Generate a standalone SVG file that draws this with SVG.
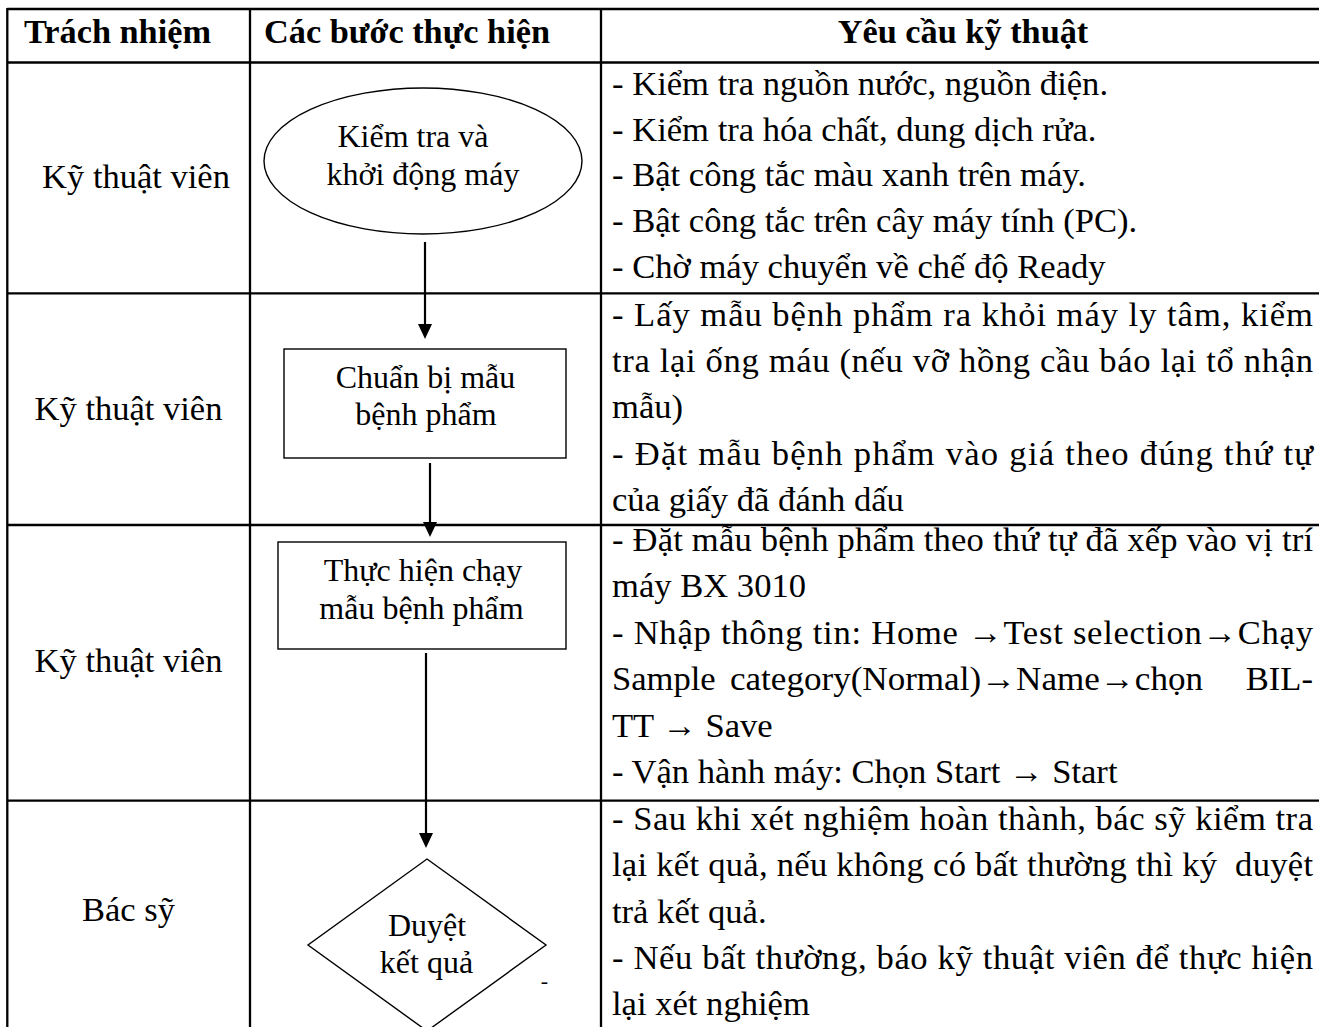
<svg xmlns="http://www.w3.org/2000/svg" width="1319" height="1027" viewBox="0 0 1319 1027">
  <style>
    text { font-family: "Liberation Serif", "Times New Roman", serif; fill: #000; }
    .hd { font-size: 34.3px; font-weight: bold; text-anchor: middle; }
    .role { font-size: 34.5px; text-anchor: middle; }
    .req { font-size: 34.6px; }
    .node { font-size: 32px; text-anchor: middle; }
    .grid { stroke: #000; stroke-width: 2.3; fill: none; }
    .shape { stroke: #000; stroke-width: 1.4; fill: #fff; }
    .conn { stroke: #000; stroke-width: 2.2; fill: none; }
  </style>
  <defs>
    <marker id="ah" viewBox="0 0 15 14" refX="0" refY="7" markerWidth="15" markerHeight="14" markerUnits="userSpaceOnUse" orient="auto">
      <path d="M0,0 L15,7 L0,14 z" fill="#000"/>
    </marker>
  </defs>
  <rect width="1319" height="1027" fill="#fff"/>

  <g id="table">
    <line class="grid" x1="7.3" y1="9" x2="1319" y2="9"/>
    <line class="grid" x1="7.3" y1="62.5" x2="1319" y2="62.5"/>
    <line class="grid" x1="7.3" y1="293.3" x2="1319" y2="293.3"/>
    <line class="grid" x1="7.3" y1="525" x2="1319" y2="525"/>
    <line class="grid" x1="7.3" y1="800.7" x2="1319" y2="800.7"/>
    <line class="grid" x1="7.3" y1="8" x2="7.3" y2="1027"/>
    <line class="grid" x1="250" y1="8" x2="250" y2="1027"/>
    <line class="grid" x1="601" y1="8" x2="601" y2="1027"/>
  </g>

  <g id="header">
    <text class="hd" x="117.5" y="43">Trách nhiệm</text>
    <text class="hd" x="407" y="43">Các bước thực hiện</text>
    <text class="hd" x="963" y="43">Yêu cầu kỹ thuật</text>
  </g>

  <g id="roles">
    <text class="role" x="136" y="188">Kỹ thuật viên</text>
    <text class="role" x="128.5" y="420">Kỹ thuật viên</text>
    <text class="role" x="128.5" y="672">Kỹ thuật viên</text>
    <text class="role" x="128.5" y="921">Bác sỹ</text>
  </g>

  <g id="requirements">
    <text class="req" x="612" y="95">- Kiểm tra nguồn nước, nguồn điện.</text>
    <text class="req" x="612" y="141">- Kiểm tra hóa chất, dung dịch rửa.</text>
    <text class="req" x="612" y="186">- Bật công tắc màu xanh trên máy.</text>
    <text class="req" x="612" y="232">- Bật công tắc trên cây máy tính (PC).</text>
    <text class="req" x="612" y="278">- Chờ máy chuyển về chế độ Ready</text>

    <text class="req" x="612" y="326" textLength="701" lengthAdjust="spacing">- Lấy mẫu bệnh phẩm ra khỏi máy ly tâm, kiểm</text>
    <text class="req" x="612" y="372" textLength="701" lengthAdjust="spacing">tra lại ống máu (nếu vỡ hồng cầu báo lại tổ nhận</text>
    <text class="req" x="612" y="418">mẫu)</text>
    <text class="req" x="612" y="465" textLength="701" lengthAdjust="spacing">- Đặt mẫu bệnh phẩm vào giá theo đúng thứ tự</text>
    <text class="req" x="612" y="511">của giấy đã đánh dấu</text>

    <text class="req" x="612" y="551" textLength="701" lengthAdjust="spacing">- Đặt mẫu bệnh phẩm theo thứ tự đã xếp vào vị trí</text>
    <text class="req" x="612" y="597">máy BX 3010</text>
    <text class="req" x="612" y="644" textLength="701" lengthAdjust="spacing">- Nhập thông tin: Home →Test selection→Chạy</text>
    <text class="req" x="612" y="690">Sample</text>
    <text class="req" x="730" y="690" textLength="473" lengthAdjust="spacingAndGlyphs">category(Normal)→Name→chọn</text>
    <text class="req" x="1313" y="690" text-anchor="end">BIL-</text>
    <text class="req" x="612" y="737">TT → Save</text>
    <text class="req" x="612" y="783">- Vận hành máy: Chọn Start → Start</text>

    <text class="req" x="612" y="830" textLength="701" lengthAdjust="spacing">- Sau khi xét nghiệm hoàn thành, bác sỹ kiểm tra</text>
    <text class="req" x="612" y="876" textLength="701" lengthAdjust="spacing" xml:space="preserve">lại kết quả, nếu không có bất thường thì ký  duyệt</text>
    <text class="req" x="612" y="923">trả kết quả.</text>
    <text class="req" x="612" y="969" textLength="701" lengthAdjust="spacing">- Nếu bất thường, báo kỹ thuật viên để thực hiện</text>
    <text class="req" x="612" y="1015">lại xét nghiệm</text>
  </g>

  <g id="connectors">
    <line class="conn" x1="425" y1="242" x2="425" y2="324" marker-end="url(#ah)"/>
    <line class="conn" x1="430" y1="463" x2="430" y2="522" marker-end="url(#ah)"/>
    <line class="conn" x1="426" y1="653" x2="426" y2="833" marker-end="url(#ah)"/>
  </g>

  <g id="node-start">
    <ellipse class="shape" cx="423" cy="161" rx="159" ry="73"/>
    <text class="node" x="413" y="147">Kiểm tra và</text>
    <text class="node" x="423" y="185">khởi động máy</text>
  </g>

  <g id="node-prepare">
    <rect class="shape" x="284" y="349" width="282" height="109"/>
    <text class="node" x="425.5" y="388">Chuẩn bị mẫu</text>
    <text class="node" x="426" y="425">bệnh phẩm</text>
  </g>

  <g id="node-run">
    <rect class="shape" x="278" y="542" width="288" height="107"/>
    <text class="node" x="423" y="581">Thực hiện chạy</text>
    <text class="node" x="421.5" y="619">mẫu bệnh phẩm</text>
  </g>

  <g id="node-review">
    <polygon class="shape" points="427,859 546,945 427,1031 308,945"/>
    <text class="node" x="427" y="936">Duyệt</text>
    <text class="node" x="426.5" y="973">kết quả</text>
    <text x="544.5" y="988" style="font-size:22px;text-anchor:middle">-</text>
  </g>
</svg>
